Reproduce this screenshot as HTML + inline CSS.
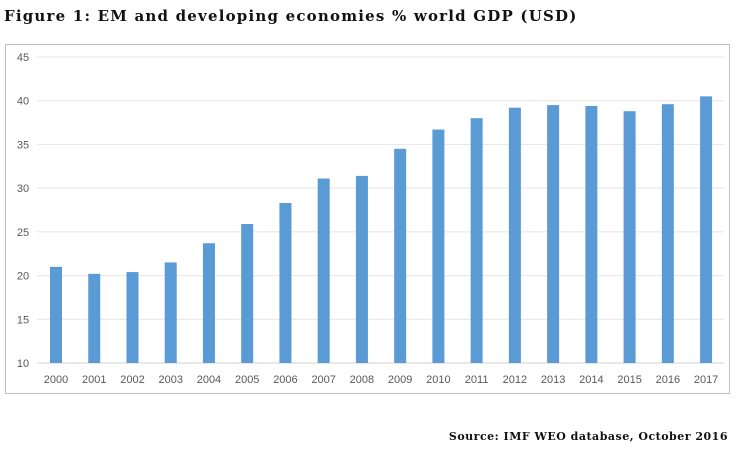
<!DOCTYPE html>
<html><head><meta charset="utf-8"><style>
body{margin:0;background:#fff;width:737px;height:453px;overflow:hidden;font-family:"Liberation Sans",sans-serif}
#title{position:absolute;left:4px;top:7px;font:bold 15px "DejaVu Serif",serif;color:#111;white-space:nowrap;letter-spacing:1.2px}
#src{position:absolute;right:9px;top:430px;font:bold 11px "DejaVu Serif",serif;color:#111;white-space:nowrap;letter-spacing:0.5px}
svg{position:absolute;left:0;top:0}
</style></head><body>
<div id="title">Figure 1: EM and developing economies % world GDP (USD)</div>
<svg width="737" height="453">
<rect x="5.5" y="44.5" width="724" height="349" fill="none" stroke="#bfbfbf"/>
<g id="grid"></g><g id="bars"></g><g id="axis"></g>
</svg>
<div id="src">Source: IMF WEO database, October 2016</div>
<script>
const categories=["2000","2001","2002","2003","2004","2005","2006","2007","2008","2009","2010","2011","2012","2013","2014","2015","2016","2017"];
const values=[21.0,20.2,20.4,21.5,23.7,25.9,28.3,31.1,31.4,34.5,36.7,38.0,39.2,39.5,39.4,38.8,39.6,40.5];
const yTicks=[10,15,20,25,30,35,40,45];
const NS="http://www.w3.org/2000/svg";
const y=v=>363-(v-10)*(306/35);
const x=i=>56+i*38.24;
const grid=document.getElementById('grid'),bars=document.getElementById('bars'),axis=document.getElementById('axis');
function mk(tag,attrs,parent,text){const e=document.createElementNS(NS,tag);for(const k in attrs)e.setAttribute(k,attrs[k]);if(text!==undefined)e.textContent=text;parent.appendChild(e);return e;}
yTicks.forEach(t=>{
 const l=mk('line',{x1:37,x2:724,y1:y(t),y2:y(t),stroke:t===10?'#d0d0d0':'#e4e4e4','stroke-width':1},grid);
 
 
 const tx=mk('text',{x:23,y:y(t)+4,'text-anchor':'middle','font-size':11,fill:'#595959','font-family':'Liberation Sans, sans-serif'},axis,t);
 
 
});
categories.forEach((c,i)=>{
 const r=mk('rect',{x:x(i)-6,y:y(values[i]),width:12,height:y(10)-y(values[i]),fill:'#5b9bd5'},bars);
 
 
 const tx=mk('text',{x:x(i),y:383,'text-anchor':'middle','font-size':11,fill:'#595959','font-family':'Liberation Sans, sans-serif'},axis,c);
 
 
});
</script>
</body></html>
